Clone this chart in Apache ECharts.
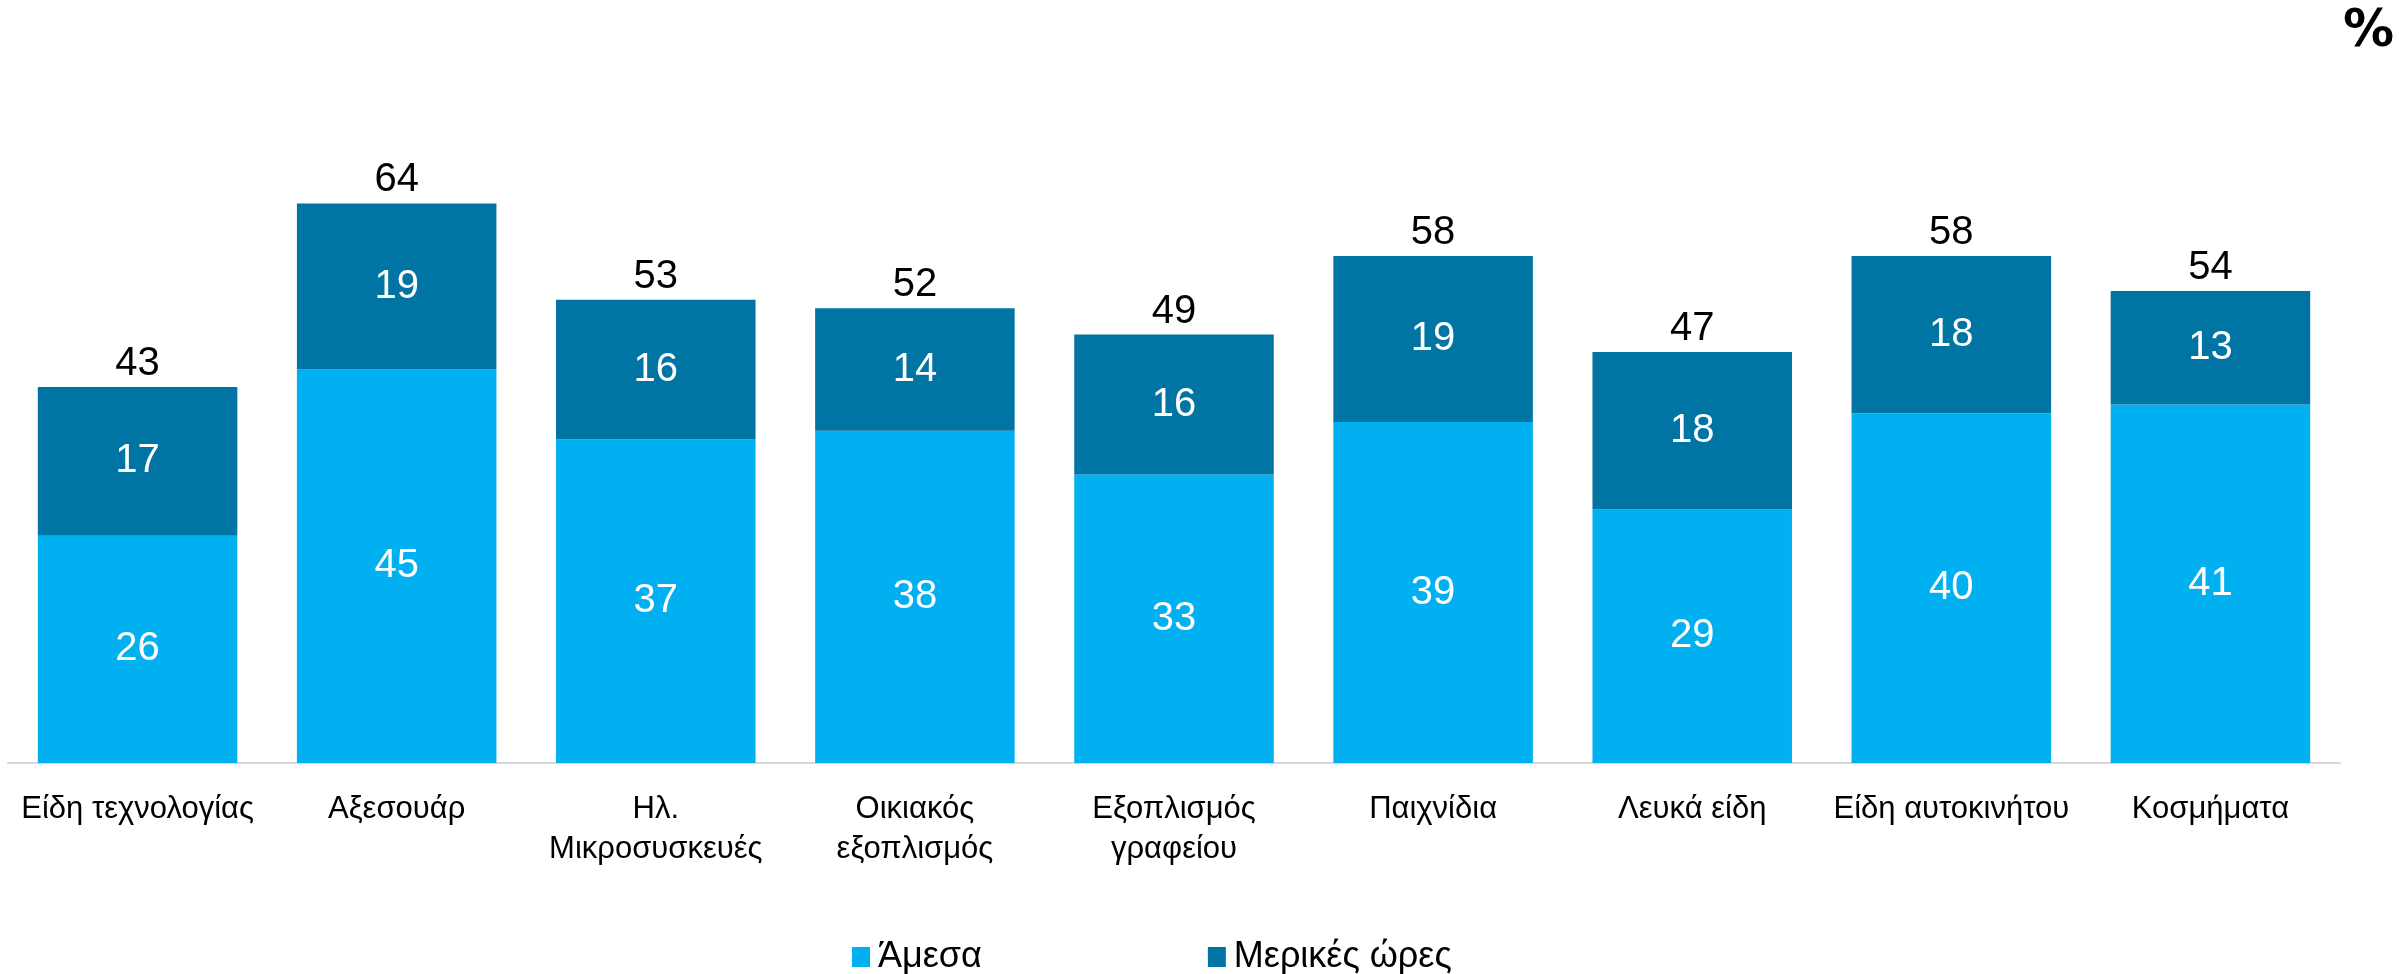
<!DOCTYPE html>
<html>
<head>
<meta charset="utf-8">
<script src="https://cdn.jsdelivr.net/npm/echarts@6/dist/echarts.min.js"></script>
<style>
  html, body { margin: 0; padding: 0; background: #fff; }
  #chart { width: 2399px; height: 974px; }
</style>
</head>
<body>
<div id="chart"></div>
<script>
// categories (x axis)
var categories = [
  'Είδη τεχνολογίας',
  'Αξεσουάρ',
  'Ηλ.\nΜικροσυσκευές',
  'Οικιακός\nεξοπλισμός',
  'Εξοπλισμός\nγραφείου',
  'Παιχνίδια',
  'Λευκά είδη',
  'Είδη αυτοκινήτου',
  'Κοσμήματα'
]
// Άμεσα (bottom segment)
var direct = [26, 45, 37, 38, 33, 39, 29, 40, 41]
// Μερικές ώρες (top segment)
var fewHours = [17, 19, 16, 14, 16, 19, 18, 18, 13]
// totals printed above the bars
var totals = [43, 64, 53, 52, 49, 58, 47, 58, 54]

var chart = echarts.init(document.getElementById('chart'))

var labelFont = 'Liberation Sans, Arial, sans-serif'

chart.setOption({
  animation: false,
  backgroundColor: '#ffffff',
  textStyle: { fontFamily: labelFont },
  graphic: [
    {
      type: 'text',
      right: 5,
      top: 7,
      style: {
        text: '%',
        font: 'bold 51px "DejaVu Sans", sans-serif',
        fill: '#000'
      }
    }
  ],
  legend: {
    data: ['Άμεσα', 'Μερικές ώρες'],
    left: 847,
    top: 934,
    icon: 'rect',
    itemWidth: 18,
    itemHeight: 20,
    itemGap: 226,
    textStyle: {
      fontFamily: '"Liberation Sans Narrow", "Liberation Sans", sans-serif',
      fontSize: 36,
      color: '#000',
      padding: [0, 0, 0, 3]
    }
  },
  grid: {
    left: 8,
    right: 59,
    top: 151,
    bottom: 211,
    containLabel: false
  },
  xAxis: {
    type: 'category',
    data: categories,
    axisTick: { show: false },
    axisLine: { lineStyle: { color: '#d9d9d9', width: 2 } },
    axisLabel: {
      color: '#000',
      fontSize: 31,
      lineHeight: 40,
      margin: 26,
      interval: 0,
      fontFamily: labelFont
    }
  },
  yAxis: {
    type: 'value',
    min: 0,
    max: 70,
    show: false,
    splitLine: { show: false }
  },
  series: [
    {
      name: 'Άμεσα',
      type: 'bar',
      stack: 'total',
      barCategoryGap: '23%',
      data: direct,
      itemStyle: { color: '#00B0F0' },
      label: {
        show: true,
        position: 'inside',
        color: '#fff',
        fontSize: 40,
        fontFamily: labelFont
      }
    },
    {
      name: 'Μερικές ώρες',
      type: 'bar',
      stack: 'total',
      data: fewHours,
      itemStyle: { color: '#0074A2' },
      label: {
        show: true,
        position: 'inside',
        color: '#fff',
        fontSize: 40,
        fontFamily: labelFont
      }
    },
    {
      name: 'Σύνολο',
      type: 'bar',
      barGap: '-100%',
      data: totals,
      itemStyle: { color: 'rgba(0,0,0,0)' },
      silent: true,
      z: 1,
      label: {
        show: true,
        position: 'top',
        distance: 3,
        color: '#000',
        fontSize: 40,
        fontFamily: labelFont
      }
    }
  ]
})
</script>
</body>
</html>
